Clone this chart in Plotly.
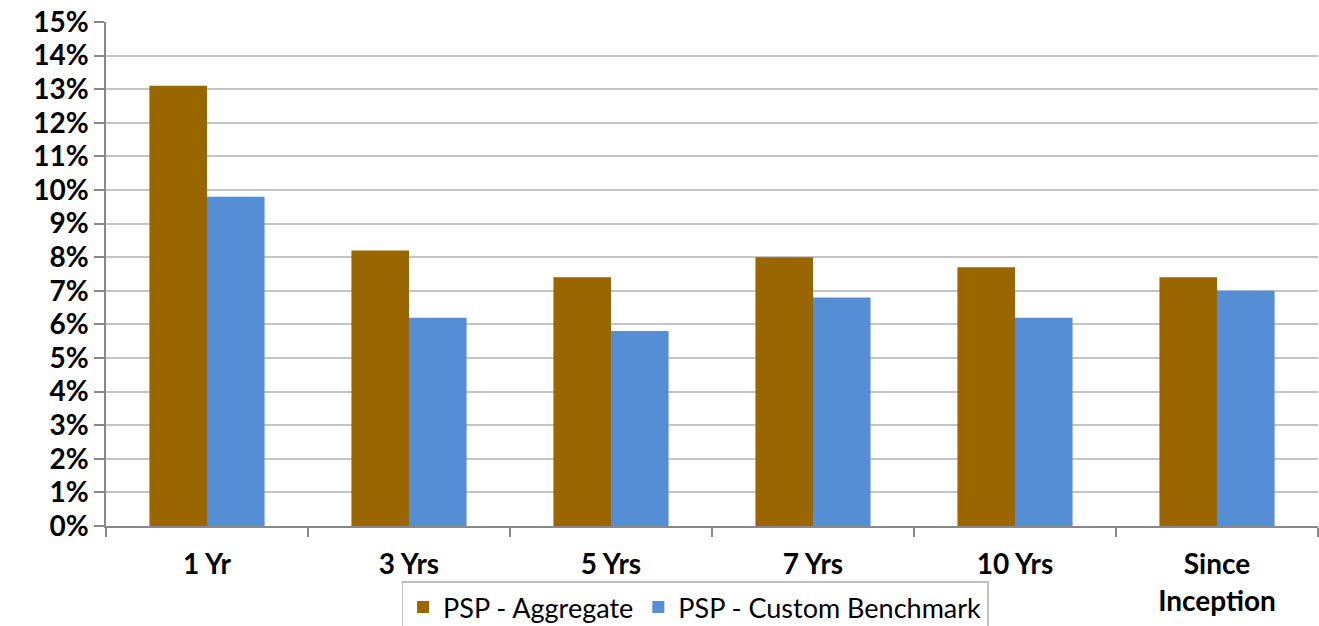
import plotly.graph_objects as go

categories = ["1 Yr", "3 Yrs", "5 Yrs", "7 Yrs", "10 Yrs", "Since<br>Inception"]
aggregate = [13.1, 8.2, 7.4, 8.0, 7.7, 7.4]
benchmark = [9.8, 6.2, 5.8, 6.8, 6.2, 7.0]

fig = go.Figure()
fig.add_trace(go.Bar(x=categories, y=aggregate, name="PSP - Aggregate",
                     marker=dict(color="#996600", line=dict(width=0))))
fig.add_trace(go.Bar(x=categories, y=benchmark, name="PSP - Custom Benchmark",
                     marker=dict(color="#558ED5", line=dict(width=0))))

fig.update_layout(
    width=1319, height=626,
    margin=dict(l=106, r=1, t=22, b=100, autoexpand=False),
    paper_bgcolor="white", plot_bgcolor="white",
    barmode="group", bargap=0.43, bargroupgap=0,
    font=dict(family="Lato, Open Sans, sans-serif", color="black"),
    legend=dict(orientation="h", x=0.486, xanchor="center", y=-0.11, yanchor="top",
                bordercolor="#BFBFBF", borderwidth=1.5, bgcolor="white",
                font=dict(size=27, family="Lato, sans-serif"),
                itemwidth=30, tracegroupgap=0),
    xaxis=dict(showline=True, linecolor="#888888", linewidth=1.5,
               ticks="outside", tickson="boundaries", ticklen=9, tickcolor="#888888",
               tickwidth=1.5, ticklabelstandoff=13, automargin=False,
               tickfont=dict(size=28, family="Lato, sans-serif", color="black", weight="bold"),
               showgrid=False),
    yaxis=dict(range=[0, 15], dtick=1, ticksuffix="%",
               showline=True, linecolor="#888888", linewidth=1.5,
               ticks="outside", ticklen=10, tickcolor="#888888", tickwidth=1.5,
               gridcolor="#C4C4C4", gridwidth=1.5, automargin=False,
               tickfont=dict(size=28, family="Lato, sans-serif", color="black", weight="bold"),
               zeroline=False),
)

fig.write_html("out.html", config={"displayModeBar": False},
               post_script="document.body.style.margin='0';document.body.style.overflow='hidden';")
